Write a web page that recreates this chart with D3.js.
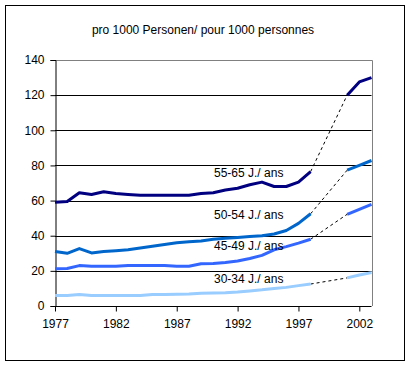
<!DOCTYPE html>
<html>
<head>
<meta charset="utf-8">
<script src="https://cdn.jsdelivr.net/npm/d3@7"></script>
<style>
  body { margin: 0; background: #fff; }
  svg { font-family: "Liberation Sans", Arial, sans-serif; }
</style>
</head>
<body>
<svg id="chart" width="412" height="367"></svg>
<script>
const years = d3.range(1977, 1999);
const lateYears = [2001, 2002, 2003];

const s5565 = [59, 59.5, 64.5, 63.5, 65, 64, 63.5, 63, 63, 63, 63, 63, 64, 64.5, 66, 67, 69, 70.5, 68, 68, 70.5, 76.5];
const s5565Late = [120, 127.5, 130];

const s5054 = [31, 30, 32.7, 30.2, 31, 31.5, 32, 33, 34, 35, 36, 36.5, 37, 38, 38.5, 39, 39.5, 40, 41, 43, 47, 52.5];
const s5054Late = [77.3, 80, 82.8];

const s4549 = [21.2, 21.3, 23, 22.6, 22.6, 22.6, 23, 23, 23, 23, 22.6, 22.6, 24, 24.2, 24.8, 25.6, 27, 28.8, 32, 33.8, 35.8, 38];
const s4549Late = [52.2, 55, 57.8];

const s3034 = [6, 6, 6.6, 6, 6, 6, 6, 6, 6.5, 6.6, 6.7, 6.8, 7.2, 7.4, 7.6, 8, 8.6, 9.2, 10, 10.6, 11.6, 12.5];
const s3034Late = [16, 17.6, 19];

const labels = ["55-65 J./ ans", "50-54 J./ ans", "45-49 J./ ans", "30-34 J./ ans"];
const yTicks = [0, 20, 40, 60, 80, 100, 120, 140];
const xTicks = [1977, 1982, 1987, 1992, 1997, 2002];

const series = [
  { name: labels[0], early: s5565, late: s5565Late, color: "#000080", lx: 214, ly: 173 },
  { name: labels[1], early: s5054, late: s5054Late, color: "#0066cc", lx: 214, ly: 215 },
  { name: labels[2], early: s4549, late: s4549Late, color: "#3366ff", lx: 214, ly: 246 },
  { name: labels[3], early: s3034, late: s3034Late, color: "#99ccff", lx: 214, ly: 279 }
];

const svg = d3.select("#chart");

// outer frame
svg.append("rect")
  .attr("x", 5.5).attr("y", 5.5)
  .attr("width", 399).attr("height", 355)
  .attr("fill", "none").attr("stroke", "#000");

svg.append("text")
  .attr("x", 203).attr("y", 34)
  .attr("text-anchor", "middle")
  .attr("font-size", 12)
  .text("pro 1000 Personen/ pour 1000 personnes");

const x = d3.scaleLinear().domain([1977, 2003]).range([55, 371.5]);
const y = d3.scaleLinear().domain([0, 140]).range([306, 60]);

// gridlines
svg.append("g")
  .selectAll("line")
  .data(yTicks.filter(d => d > 0 && d < 140))
  .join("line")
  .attr("x1", x(1977)).attr("x2", x(2003))
  .attr("y1", d => Math.round(y(d)) + 0.5).attr("y2", d => Math.round(y(d)) + 0.5)
  .attr("stroke", "#000");

// plot border (top/right)
svg.append("path")
  .attr("d", `M${x(1977)},${Math.round(y(140)) + 0.5}H${Math.round(x(2003)) + 0.5}V${y(0)}`)
  .attr("fill", "none").attr("stroke", "#808080");

const yAxis = d3.axisLeft(y).tickValues(yTicks).tickSize(5).tickPadding(6);
svg.append("g")
  .attr("transform", `translate(${Math.round(x(1977)) + 0.5},0)`)
  .call(yAxis)
  .call(g => g.selectAll("text").attr("font-size", 12).attr("fill", "#000").attr("font-family", "Liberation Sans, Arial, sans-serif"));

const xAxis = d3.axisBottom(x).tickValues(xTicks).tickFormat(d3.format("d")).tickSize(5).tickPadding(8);
svg.append("g")
  .attr("transform", `translate(0,${Math.round(y(0)) + 0.5})`)
  .call(xAxis)
  .call(g => g.select(".domain").attr("d", `M${x(1977)},0H${x(2003)}`))
  .call(g => g.selectAll("text").attr("font-size", 12).attr("fill", "#000").attr("font-family", "Liberation Sans, Arial, sans-serif"));

const line = d3.line().x(d => x(d[0])).y(d => y(d[1]));

series.forEach(s => {
  const early = years.map((yr, i) => [yr, s.early[i]]);
  const late = lateYears.map((yr, i) => [yr, s.late[i]]);
  // dashed bridge
  svg.append("path")
    .attr("d", line([early[early.length - 1], late[0]]))
    .attr("fill", "none").attr("stroke", "#000")
    .attr("stroke-width", 1).attr("stroke-dasharray", "3,3");
  [early, late].forEach(pts => {
    svg.append("path")
      .attr("d", line(pts))
      .attr("fill", "none").attr("stroke", s.color)
      .attr("stroke-width", 3).attr("stroke-linejoin", "round");
  });
  svg.append("text")
    .attr("x", s.lx).attr("y", s.ly)
    .attr("dy", "0.35em")
    .attr("font-size", 12)
    .text(s.name);
});
</script>
</body>
</html>
